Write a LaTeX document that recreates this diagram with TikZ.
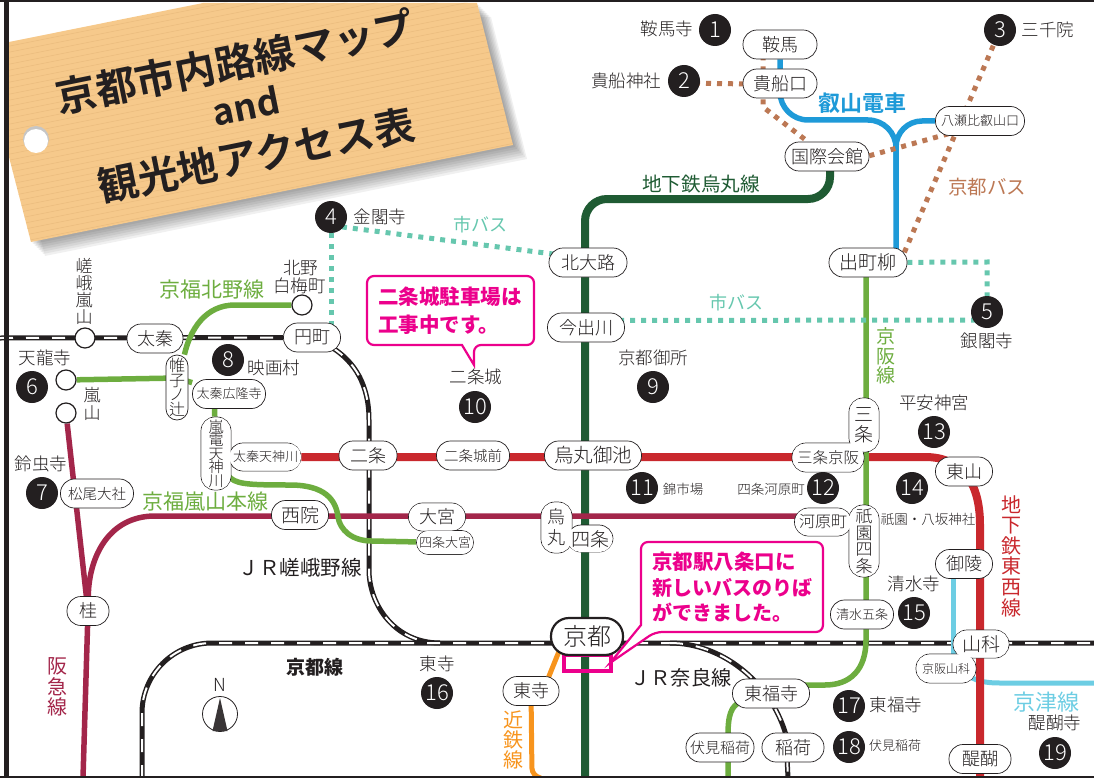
\documentclass[tikz,border=0pt]{standalone}
\usepackage{fontspec}
\setmainfont{Noto Sans CJK JP Light}[BoldFont={Noto Sans CJK JP Bold}]
\newfontfamily\medfont{Noto Sans CJK JP}
\newfontfamily\heavyfont{Noto Sans CJK JP Black}
\usetikzlibrary{positioning}
\normallineskiplimit=-100pt
\lineskiplimit=-100pt
\newcommand{\fsz}[1]{\fontsize{#1}{#1}\selectfont}
\newcommand{\tagpath}{(9,42) -- (203,3) -- (477,3) -- (513,145) -- (31,242) -- (9,157) -- cycle}
\definecolor{inkc}{HTML}{231F20}
\definecolor{tagc}{HTML}{F6C98B}
\definecolor{stripec}{HTML}{EBBC7E}
\definecolor{pinkc}{HTML}{EC008C}
\definecolor{eizanc}{HTML}{1E9AD8}
\definecolor{subgc}{HTML}{1F5B33}
\definecolor{tozaic}{HTML}{C9282D}
\definecolor{hankyuc}{HTML}{A3264A}
\definecolor{greenc}{HTML}{6DAD3F}
\definecolor{kintc}{HTML}{F7941D}
\definecolor{keishinc}{HTML}{6DCDE3}
\definecolor{cbusc}{HTML}{66C7AE}
\definecolor{kbusc}{HTML}{BC7854}
\pgfdeclarelayer{lines}
\pgfsetlayers{lines,main}
\tikzset{
  sta/.style={draw=inkc,fill=white,line width=.7pt,rounded corners=14pt,inner sep=0pt,
    minimum height=29pt,minimum width=#1,text=inkc,font=\fsz{18},align=center},
  stin/.style={fill=white,rounded corners=13pt,inner sep=0pt,minimum width=#1,
    text=inkc,font=\fsz{18},align=center},
  num/.style={circle,fill=inkc,text=white,minimum size=32pt,inner sep=0pt,font=\fsz{22}},
  lab/.style={inner sep=0pt,text=inkc,font=\fsz{17.5},align=center},
  linelab/.style={inner sep=0pt,text=#1,font=\medfont\fsz{20},align=center},
  jr/.style={draw=inkc,line width=5pt,postaction={draw=white,line width=2pt,dash pattern=on 13pt off 13pt}},
  eizan/.style={draw=eizanc,line width=5.5pt},
  subg/.style={draw=subgc,line width=8pt},
  tozai/.style={draw=tozaic,line width=8pt},
  hankyu/.style={draw=hankyuc,line width=5.5pt},
  randen/.style={draw=greenc,line width=5.5pt},
  kint/.style={draw=kintc,line width=5pt},
  keishin/.style={draw=keishinc,line width=5pt},
  cbus/.style={draw=cbusc,line width=5pt,dash pattern=on 5pt off 6pt},
  kbus/.style={draw=kbusc,line width=5pt,dash pattern=on 5pt off 6pt},
  callout/.style={draw=pinkc,fill=white,line width=2.2pt,rounded corners=7pt},
  calltext/.style={inner sep=0pt,text=pinkc,font=\heavyfont\fsz{20.5},align=left},
}
\begin{document}
\begin{tikzpicture}[x=1pt,y=-1pt]
  \useasboundingbox (0,0) rectangle (1094,778);
  % name tag
  \foreach \s in {2,4,...,14}
    \fill[black,opacity=.06,xshift=\s,yshift=-\s] \tagpath;
  \fill[tagc] \tagpath;
  \begin{scope}
    \clip \tagpath;
    \foreach \d in {30,36,...,370}
      \draw[stripec,line width=.5pt] (0,\d) -- (600,\d-120);
  \end{scope}
  \fill[gray!45] (36,139) circle (13);
  \fill[white] (36,141) circle (12);
  \node[inner sep=0pt,rotate=11.5,text=inkc,font=\fsz{40.5}\bfseries] (title1) at (235,62) {京都市内路線マップ};
  \node[inner sep=0pt,rotate=11.5,text=inkc,font=\fsz{36}\bfseries] (title2) at (246,106) {and};
  \node[inner sep=0pt,rotate=11.5,text=inkc,font=\fsz{40.5}\bfseries] (title3) at (256,155) {観光地アクセス表};
  % callouts
  \draw[pinkc,line width=4pt] (564,655) rectangle (611,671);
  \draw[callout] (367,276) -- (534,276) -- (534,345) -- (474,345) [sharp corners] -- (474,365) -- (462,345) [rounded corners=7pt] -- (367,345) -- cycle;
  \node[calltext,anchor=west] (call1a) at (378,297) {二条城駐車場は};
  \node[calltext,anchor=west] (call1b) at (378,325) {工事中です。};
  \draw[callout] (641,542) -- (823,542) -- (823,632) -- (655,632) [sharp corners] -- (610,663) -- (641,625) [rounded corners=7pt] -- cycle;
  \node[calltext,anchor=west] (call2a) at (652,562) {京都駅八条口に};
  \node[calltext,anchor=west,font=\heavyfont\fsz{20}] (call2b) at (652,588) {新しいバスのりば};
  \node[calltext,anchor=west,font=\heavyfont\fsz{20}] (call2c) at (652,613) {ができました。};
  % stations
  \node[sta=74] (kurama) at (780,44.5) {鞍馬};
  \node[sta=74] (kibune) at (780,83.5) {貴船口};
  \node[sta=84] (kokusai) at (827,156.5) {国際会館};
  \node[sta=89,font=\fsz{13}] (yase) at (980,121) {八瀬比叡山口};
  \node[sta=78,font=\fsz{19}] (demachi) at (868,262.5) {出町柳};
  \node[sta=78] (kitaoji) at (588,262.5) {北大路};
  \node[sta=77] (imadegawa) at (586,327.5) {今出川};
  \node[sta=97,font=\fsz{19.5}] (oike) at (593,455.5) {烏丸御池};
  \node[sta=73,font=\fsz{14.5}] (nijomae) at (473,455.5) {二条城前};
  \node[sta=58] (nijo) at (368,455.5) {二条};
  \node[sta=73,font=\fsz{13}] (koryuji) at (229,394) {太秦広隆寺};
  \node[sta=22,minimum height=65pt,rounded corners=11pt,font=\fontsize{16}{14.5}\selectfont] (katabira) at (177,387.5) {帷\\子\\ノ\\辻};
  \node[sta=56] (uzumasa) at (155,338.5) {太秦};
  \node[sta=57] (enmachi) at (312,337.5) {円町};
  \node[sta=73,font=\fsz{14.5}] (matsuo) at (97,493.5) {松尾大社};
  \node[sta=57,font=\fsz{19}] (saiin) at (300,515) {西院};
  \node[sta=42] (katsura) at (88,611) {桂};
  \node[sta=56] (toji) at (531,691) {東寺};
  \node[sta=77] (tofukuji) at (771,693.5) {東福寺};
  \node[sta=68,font=\fsz{15}] (fushimi) at (720,747.5) {伏見稲荷};
  \node[sta=62] (inari) at (793,747.5) {稲荷};
  \node[sta=57] (higashiyama) at (964,471.5) {東山};
  \node[sta=63,font=\fsz{13}] (kiyomizu) at (862,614.5) {清水五条};
  \node[sta=57] (misasagi) at (964,564) {御陵};
  \node[sta=62] (daigo) at (980,759) {醍醐};
  \node[sta=72,draw=inkc,line width=2.2pt,minimum height=37pt,rounded corners=18pt,font=\fsz{24}] (kyoto) at (587,636.5) {京都};
  % stations drawn as one outline
  \node[sta=30,minimum height=73pt] (randenst) at (216,453.5) {};
  \node[sta=72,minimum height=28pt] (taishin) at (265,457) {};
  \node[stin=29,minimum height=72pt,font=\fontsize{15}{13.5}\selectfont] (randentx) at (216,453.5) {嵐\\電\\天\\神\\川};
  \node[stin=71,minimum height=27pt,font=\fsz{13}] (taishintx) at (265.5,457) {太秦天神川};
  \node[sta=57,minimum height=28pt] (omiya) at (437,517) {};
  \node[sta=57,minimum height=24pt,rounded corners=12pt] (shijoomiya) at (445,542.5) {};
  \node[stin=56,minimum height=27pt] (omiyatx) at (437,517) {大宮};
  \node[stin=56,minimum height=23pt,rounded corners=11pt,font=\fsz{13}] (shijoomiyatx) at (445,542.5) {四条大宮};
  \node[sta=31,minimum height=51pt] (karasuma) at (556.5,527.5) {};
  \node[sta=46,minimum height=27pt] (shijo) at (590,538.5) {};
  \node[stin=30,minimum height=50pt,font=\fontsize{18}{21}\selectfont] (karasumatx) at (556.5,527.5) {烏\\丸};
  \node[stin=45,minimum height=26pt,font=\fsz{19}] (shijotx) at (590,539) {四条};
  \node[sta=30,minimum height=54pt] (sanjo) at (864,425) {};
  \node[sta=72] (sanjokeihan) at (828,457.5) {};
  \node[stin=29,minimum height=53pt,font=\fontsize{19}{20}\selectfont] (sanjotx) at (864,425) {三\\条};
  \node[stin=71,minimum height=28pt,font=\fsz{15.5}] (sanjokeihantx) at (828,457.5) {三条京阪};
  \node[sta=57,minimum height=28pt] (kawaramachi) at (823,522) {};
  \node[sta=30,minimum height=72pt] (gion) at (864,541) {};
  \node[stin=56,minimum height=27pt,font=\fsz{16}] (kawaramachitx) at (823,522) {河原町};
  \node[stin=29,minimum height=71pt,font=\fontsize{17}{16.5}\selectfont] (giontx) at (864,541) {祇\\園\\四\\条};
  \node[sta=56,minimum height=28pt] (yamashina) at (981,644) {};
  \node[sta=60] (keiyama) at (946,668.5) {};
  \node[stin=55,minimum height=27pt,font=\fsz{19}] (yamashinatx) at (981,644) {山科};
  \node[stin=59,minimum height=28pt,font=\fsz{12}] (keiyamatx) at (946,668.5) {京阪山科};
  % small stops
  \node[circle,draw=inkc,fill=white,line width=1.2pt,minimum size=20pt,inner sep=0pt] (saga) at (85,338) {};
  \node[circle,draw=inkc,fill=white,line width=1.2pt,minimum size=20pt,inner sep=0pt] (kitano) at (302,305) {};
  \node[circle,draw=inkc,fill=white,line width=1.2pt,minimum size=20pt,inner sep=0pt] (randenarashi) at (66,380) {};
  \node[circle,draw=inkc,fill=white,line width=1.2pt,minimum size=20pt,inner sep=0pt] (hkarashi) at (66,413) {};
  % numbered sights
  \node[num] (n1) at (715,30) {1};
  \node[num] (n2) at (684,81) {2};
  \node[num] (n3) at (1000,30) {3};
  \node[num] (n4) at (331,217) {4};
  \node[num] (n5) at (987,312) {5};
  \node[num] (n6) at (32,387) {6};
  \node[num] (n7) at (42,493) {7};
  \node[num] (n8) at (228,360) {8};
  \node[num] (n9) at (653,387) {9};
  \node[num] (n10) at (475,407) {10};
  \node[num] (n11) at (642,488) {11};
  \node[num] (n12) at (823,488) {12};
  \node[num] (n13) at (934,432) {13};
  \node[num] (n14) at (912,488) {14};
  \node[num] (n15) at (914,613) {15};
  \node[num] (n16) at (437,693) {16};
  \node[num] (n17) at (849,706) {17};
  \node[num] (n18) at (849,747) {18};
  \node[num] (n19) at (1055,753) {19};
  % sight names
  \node[lab] (l1) at (667,29) {鞍馬寺};
  \node[lab] (l2) at (626,81) {貴船神社};
  \node[lab] (l3) at (1048,30) {三千院};
  \node[lab] (l4) at (380,217) {金閣寺};
  \node[lab] (l5) at (987,341) {銀閣寺};
  \node[lab] (l6) at (45,358) {天龍寺};
  \node[lab] (l7) at (41,464) {鈴虫寺};
  \node[lab] (l8) at (274,368) {映画村};
  \node[lab] (l9) at (653,358) {京都御所};
  \node[lab] (l10) at (476,377) {二条城};
  \node[lab,font=\fsz{13.5}] (l11) at (683,489) {錦市場};
  \node[lab,font=\fsz{13.5}] (l12) at (771,489) {四条河原町};
  \node[lab] (l13) at (934,403) {平安神宮};
  \node[lab,font=\fsz{13.5}] (l14) at (928,519) {祇園・八坂神社};
  \node[lab] (l15) at (914,584) {清水寺};
  \node[lab] (l16) at (437,664) {東寺};
  \node[lab] (l17) at (896,705) {東福寺};
  \node[lab,font=\fsz{13}] (l18) at (895,746) {伏見稲荷};
  \node[lab] (l19) at (1055,723) {醍醐寺};
  % stop names
  \node[lab,font=\fontsize{17}{17}\selectfont] (sagalab) at (84,291) {嵯\\峨\\嵐\\山};
  \node[lab,align=left,anchor=west] (kitanolab) at (273,277) {\hspace{10pt}北野\\白梅町};
  \node[lab,font=\fontsize{17}{18}\selectfont] (arashilab) at (92,404) {嵐\\山};
  % line names
  \node[linelab=greenc,font=\medfont\fsz{21}] (ln1) at (212,290) {京福北野線};
  \node[linelab=greenc,font=\medfont\fsz{21}] (ln2) at (205,502) {京福嵐山本線};
  \node[linelab=hankyuc,font=\medfont\fontsize{20}{20.5}\selectfont] (ln3) at (57,687) {阪\\急\\線};
  \node[linelab=kintc,font=\medfont\fontsize{20}{20}\selectfont] (ln4) at (513,740) {近\\鉄\\線};
  \node[linelab=subgc,font=\medfont\fsz{19.6}] (ln5) at (701,184) {地下鉄烏丸線};
  \node[linelab=eizanc,font=\fsz{22}\bfseries] (ln6) at (862,103) {叡山電車};
  \node[linelab=kbusc,font=\medfont\fsz{19.5}] (ln7) at (987,187) {京都バス};
  \node[linelab=cbusc,font=\medfont\fsz{18}] (ln8) at (480,225) {市バス};
  \node[linelab=cbusc,font=\medfont\fsz{18}] (ln9) at (736,303) {市バス};
  \node[linelab=greenc,font=\medfont\fontsize{19}{19.5}\selectfont] (ln10) at (886,356) {京\\阪\\線};
  \node[linelab=tozaic,font=\medfont\fontsize{20}{20.6}\selectfont] (ln11) at (1011,556) {地\\下\\鉄\\東\\西\\線};
  \node[linelab=keishinc,font=\medfont\fsz{22}] (ln12) at (1046,702) {京津線};
  \node[linelab=inkc,font=\medfont\fsz{20.5}] (ln13) at (300,568) {ＪＲ嵯峨野線};
  \node[linelab=inkc,font=\medfont\fsz{20.2}] (ln14) at (681,678) {ＪＲ奈良線};
  \node[linelab=inkc,font=\medfont\fsz{19}\bfseries] (ln15) at (315,667) {京都線};
  % north mark
  \node[lab,font=\fsz{18}] (north) at (220,685) {N};
  \node[circle,draw=inkc,line width=.8pt,minimum size=35pt,inner sep=0pt] (needle) at (220,714) {};
  \fill[inkc!90] (220,698) -- (227.5,731) -- (212.5,731) -- cycle;
  % free ends
  \coordinate (kbot) at (585,778);
  \coordinate (rbot) at (980,778);
  \coordinate (hbot) at (83,778);
  \coordinate (jwest) at (0,338);
  \coordinate (jeast) at (1094,643);
  \coordinate (jsouth) at (142,778);
  \coordinate (jsaga) at (440,643);
  \coordinate (nsouth) at (788,778);
  \coordinate (gsouth) at (728,778);
  \coordinate (ksouth) at (541,778);
  \coordinate (keast) at (1094,683);
  \begin{pgfonlayer}{lines}
    % railway lines
    \path[jr] (jwest) -- (enmachi);
    \path[jr] ([xshift=20,yshift=-10]enmachi.center) .. controls (355,362) and (369,385) .. (369,420) -- (369,570) .. controls (369,605) and (395,643) .. (jsaga);
    \path[jr,rounded corners=70pt] (jsouth) -- (142,643) -- (jeast);
    \path[jr] (670,643) .. controls (720,643) and (770,680) .. (786,735) -- (nsouth);
    % Eizan
    \draw[eizan,rounded corners=28pt] (kurama) -- (780,120) -- (896,120) -- ([xshift=28]demachi.center);
    \draw[eizan,rounded corners=26pt] (yase) -- (896,121) -- (896,190);
    % subway
    \draw[subg,rounded corners=22pt] (kbot) -- (585,199) -- (830,199) -- ([xshift=3]kokusai.center);
    % Keishin
    \draw[keishin] ([xshift=-11]misasagi.center) -- (953,660);
    \draw[keishin] ([xshift=20,yshift=-6]keiyama.center) .. controls (975,680) and (982,683) .. (1000,683) -- (keast);
    \draw[tozai] (taishin) -- (925,457) .. controls (960,457) and (980,480) .. (980,525) -- (rbot);
    % Hankyu
    \draw[hankyu] ([yshift=6]kawaramachi.center) -- (155,516) .. controls (110,516) and (89,555) .. (katsura);
    \draw[hankyu] (hkarashi) -- (katsura);
    \draw[hankyu] (katsura) -- (hbot);
    % Randen and Keihan
    \draw[randen] (kitano) -- (235,305) .. controls (205,305) and (190,330) .. (katabira);
    \draw[randen] (randenarashi) -- ([yshift=9.5]katabira.center);
    \draw[randen] ([yshift=9.5]katabira.center) -- (koryuji);
    \draw[randen] ([xshift=-15]koryuji.center) -- (randenst);
    \draw[randen] ([xshift=12,yshift=-22]randenst.center) .. controls (235,484) and (245,485) .. (290,485) .. controls (325,485) and (336,500) .. (338,517) .. controls (340,530) and (352,541) .. (372,541) -- (shijoomiya);
    \draw[randen] ([xshift=-2]demachi.center) -- (866,640) .. controls (866,670) and (850,685) .. (825,685) -- ([yshift=8]tofukuji.center);
    \draw[randen] ([xshift=-30,yshift=-8]tofukuji.center) .. controls (731,706) and (728,715) .. (728,735) -- (gsouth);
    % Kintetsu
    \draw[kint] ([xshift=-22]kyoto.center) -- ([xshift=12]toji.center);
    \draw[kint,rounded corners=8pt] (toji) -- (532,776) -- (ksouth);
    % buses
    \draw[cbus] ([yshift=-8.5]n4.center) -- ([yshift=4]kitaoji.center);
    \draw[cbus] (n4) -- ([xshift=19]enmachi.center);
    \draw[cbus] ([yshift=7]imadegawa.center) -- ([yshift=-8]n5.center);
    \draw[cbus] (demachi) -- (987,262) -- (n5);
    \draw[kbus] ([yshift=-2]n2.center) -- ([yshift=-1]kibune.center);
    \draw[kbus] ([xshift=-17]kurama.center) -- (763,107) -- (kokusai);
    \draw[kbus] ([yshift=-11]kokusai.center) -- ([yshift=-4]yase.center);
    \draw[kbus] ([xshift=32]demachi.center) -- (n3);
  \end{pgfonlayer}
  % frame
  \fill[inkc] (4,0) rectangle (9,778);
  \fill[inkc] (0,0) rectangle (1094,2.5);
  \fill[inkc] (0,776) rectangle (1094,778);
\end{tikzpicture}
\end{document}
